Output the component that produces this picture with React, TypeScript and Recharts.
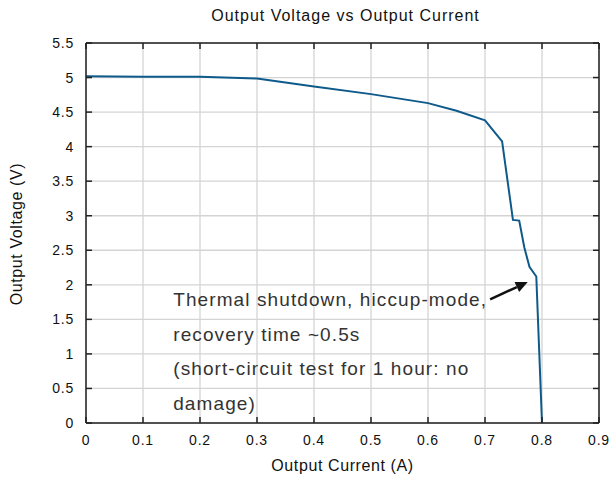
import React from 'react';
import { LineChart, Line, XAxis, YAxis, CartesianGrid, ReferenceLine, ReferenceDot } from 'recharts';

// measured points, current in A / voltage in V
const currentA = [0, 0.1, 0.2, 0.3, 0.4, 0.5, 0.6, 0.65, 0.7, 0.73, 0.742, 0.749, 0.76, 0.769, 0.778, 0.79, 0.8];
const voltageV = [5.02, 5.01, 5.01, 4.985, 4.87, 4.76, 4.63, 4.52, 4.38, 4.075, 3.36, 2.94, 2.93, 2.54, 2.26, 2.12, 0];

const xTicks = [0, 0.1, 0.2, 0.3, 0.4, 0.5, 0.6, 0.7, 0.8, 0.9];
const yTicks = [0, 0.5, 1, 1.5, 2, 2.5, 3, 3.5, 4, 4.5, 5, 5.5];

const noteLines = [
  'Thermal shutdown, hiccup-mode,',
  'recovery time ~0.5s',
  '(short-circuit test for 1 hour: no',
  'damage)',
];
const notePos = { x: 0.153, y: 1.69 };
const arrowFrom = { x: 0.709, y: 1.79 };
const arrowTo = { x: 0.775, y: 2.04 };

const data = currentA.map((c, i) => ({ current: c, voltage: voltageV[i] }));

const W = 614;
const H = 480;
const margin = { top: 43, right: 15, left: 36, bottom: 27 };
const Y_AXIS_W = 50;
const X_AXIS_H = 30;
const PLOT_TOP = margin.top;
const PLOT_BOTTOM = H - margin.bottom - X_AXIS_H;
const PLOT_LEFT = margin.left + Y_AXIS_W;
const PLOT_RIGHT = W - margin.right;
const FONT = '"Liberation Sans", Arial, sans-serif';
const TICK_LEN = 6;

const XTick = (props: any) => {
  const { x, payload } = props;
  return (
    <g>
      <line x1={x} x2={x} y1={PLOT_BOTTOM} y2={PLOT_BOTTOM - TICK_LEN} stroke="#222" strokeWidth={1.5} />
      <line x1={x} x2={x} y1={PLOT_TOP} y2={PLOT_TOP + TICK_LEN} stroke="#222" strokeWidth={1.5} />
      <text x={x} y={PLOT_BOTTOM + 22} textAnchor="middle" fontSize={14} letterSpacing={0.8} fill="#111" fontFamily={FONT}>
        {String(payload.value)}
      </text>
    </g>
  );
};

const YTick = (props: any) => {
  const { y, payload } = props;
  return (
    <g>
      <line x1={PLOT_LEFT} x2={PLOT_LEFT + TICK_LEN} y1={y} y2={y} stroke="#222" strokeWidth={1.5} />
      <line x1={PLOT_RIGHT} x2={PLOT_RIGHT - TICK_LEN} y1={y} y2={y} stroke="#222" strokeWidth={1.5} />
      <text x={PLOT_LEFT - 12} y={y + 5} textAnchor="end" fontSize={14} letterSpacing={0.8} fill="#111" fontFamily={FONT}>
        {String(payload.value)}
      </text>
    </g>
  );
};

const Arrow = (props: any) => {
  const { x1, y1, x2, y2 } = props;
  const ang = Math.atan2(y2 - y1, x2 - x1);
  const len = 12;
  const half = 5.5;
  const bx = x2 - len * Math.cos(ang);
  const by = y2 - len * Math.sin(ang);
  const px = -Math.sin(ang) * half;
  const py = Math.cos(ang) * half;
  return (
    <g>
      <line x1={x1} y1={y1} x2={bx} y2={by} stroke="#111" strokeWidth={2.5} />
      <polygon points={`${x2},${y2} ${bx + px},${by + py} ${bx - px},${by - py}`} fill="#111" />
    </g>
  );
};

const Note = (props: any) => {
  const { cx, cy } = props;
  return (
    <text x={cx} y={cy} fontSize={19} letterSpacing={1.1} fill="#333" fontFamily={FONT}>
      {noteLines.map((l, i) => (
        <tspan key={i} x={cx} y={cy + i * 34.5}>
          {l}
        </tspan>
      ))}
    </text>
  );
};

export default function App() {
  return (
    <div style={{ position: 'absolute', left: 0, top: 0, width: W, height: H, background: '#fff', fontFamily: FONT }}>
      <div style={{ position: 'absolute', left: PLOT_LEFT + 3, width: PLOT_RIGHT - PLOT_LEFT, top: 7, textAlign: 'center', fontSize: 16, letterSpacing: 1, color: '#111' }}>
        Output Voltage vs Output Current
      </div>
      <div style={{ position: 'absolute', left: PLOT_LEFT, width: PLOT_RIGHT - PLOT_LEFT, top: 457, textAlign: 'center', fontSize: 16, letterSpacing: 0.6, color: '#111' }}>
        Output Current (A)
      </div>
      <div
        style={{
          position: 'absolute',
          left: 17 - 100,
          top: 234 - 10,
          width: 200,
          textAlign: 'center',
          fontSize: 16,
          letterSpacing: 0.6,
          color: '#111',
          transform: 'rotate(-90deg)',
          lineHeight: '20px',
        }}
      >
        Output Voltage (V)
      </div>
      <div style={{ position: 'absolute', left: 0, top: 0 }}>
        <LineChart width={W} height={H} data={data} margin={margin}>
          <CartesianGrid stroke="#d4d4d4" strokeWidth={1.3} />
          <XAxis
            dataKey="current"
            type="number"
            domain={[0, 0.9]}
            ticks={xTicks}
            interval={0}
            height={X_AXIS_H}
            tick={<XTick />}
            tickLine={false}
            axisLine={{ stroke: '#222', strokeWidth: 1.5 }}
          />
          <YAxis
            type="number"
            domain={[0, 5.5]}
            ticks={yTicks}
            interval={0}
            width={Y_AXIS_W}
            tick={<YTick />}
            tickLine={false}
            axisLine={{ stroke: '#222', strokeWidth: 1.5 }}
          />
          <ReferenceLine y={5.5} stroke="#222" strokeWidth={1.5} />
          <ReferenceLine x={0.9} stroke="#222" strokeWidth={1.5} />
          <Line
            type="linear"
            dataKey="voltage"
            stroke="#0e5a8a"
            strokeWidth={2}
            dot={false}
            isAnimationActive={false}
          />
          <ReferenceLine segment={[arrowFrom, arrowTo]} shape={<Arrow />} />
          <ReferenceDot x={notePos.x} y={notePos.y} r={0} shape={<Note />} />
        </LineChart>
      </div>
    </div>
  );
}
